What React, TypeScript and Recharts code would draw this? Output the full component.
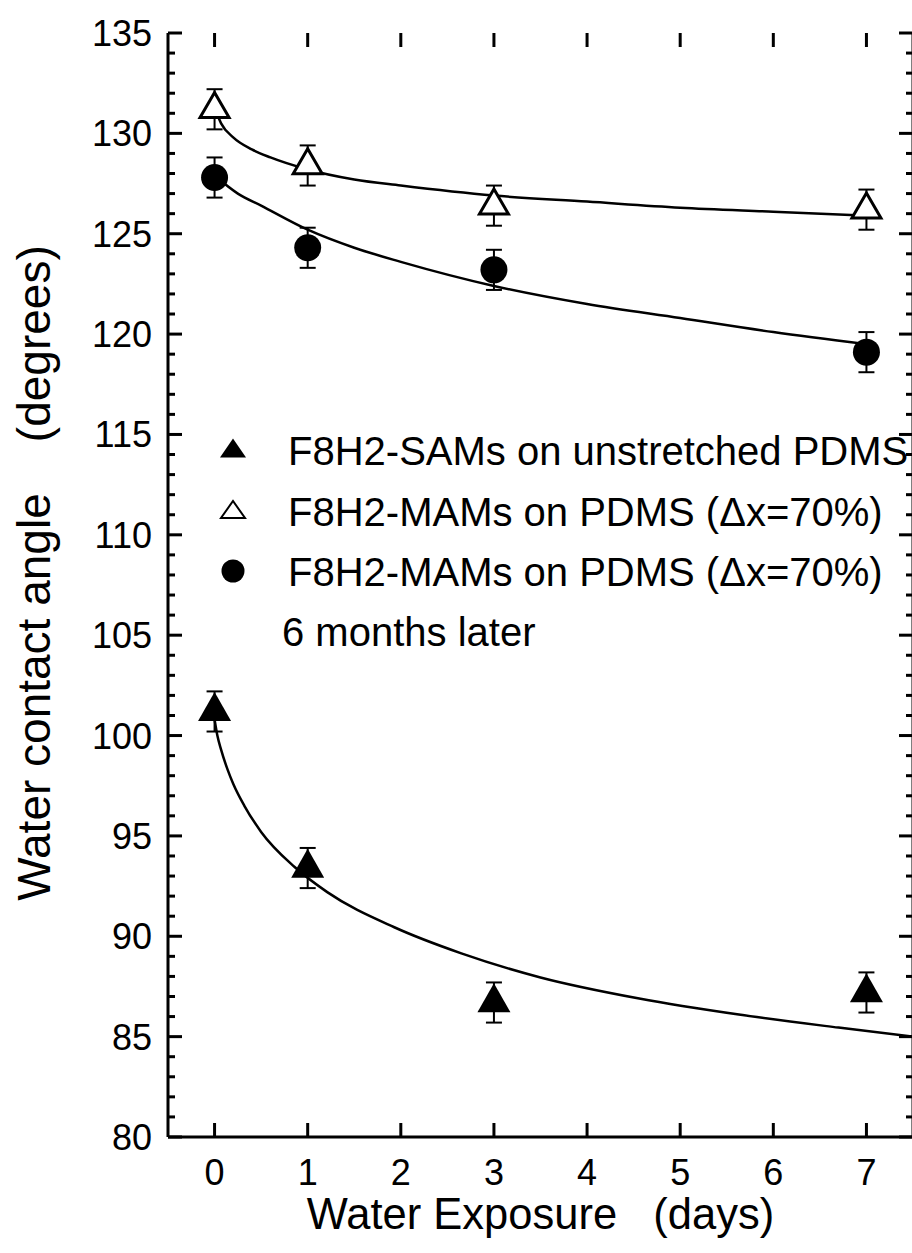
import React from 'react';
import { ComposedChart, Scatter, Line, XAxis, YAxis, ErrorBar, Legend, Label } from 'recharts';

const FONT = '"Liberation Sans", Arial, Helvetica, sans-serif';

// measured points (days of water exposure vs contact angle)
const days = [0, 1, 3, 7];
const samsAngle = [101.2, 93.4, 86.7, 87.2];
const samsError = [1.0, 1.0, 1.0, 1.0];
const mamsAngle = [131.2, 128.4, 126.4, 126.2];
const mamsError = [1.0, 1.0, 1.0, 1.0];
const laterAngle = [127.8, 124.3, 123.2, 119.1];
const laterError = [1.0, 1.0, 1.0, 1.0];

// fitted curves
const samsFitDays = [0, 0.03, 0.07, 0.14, 0.2, 0.32, 0.5, 0.86, 1.21, 1.93, 2.65, 3.5, 4.56, 5.63, 6.7, 7.5];
const samsFitAngle = [100.8, 100.0, 99.3, 98.3, 97.6, 96.5, 95.2, 93.45, 92.2, 90.45, 89.15, 87.95, 86.9, 86.1, 85.45, 85.0];
const mamsFitDays = [0, 0.07, 0.2, 0.4, 0.6, 1, 1.5, 2, 3, 4, 5, 6, 7];
const mamsFitAngle = [131.3, 130.5, 129.8, 129.2, 128.8, 128.2, 127.7, 127.4, 126.9, 126.6, 126.3, 126.1, 125.9];
const laterFitDays = [0, 0.25, 0.5, 1, 1.5, 2, 3, 4, 5, 6, 7];
const laterFitAngle = [127.9, 127.0, 126.4, 125.2, 124.3, 123.6, 122.4, 121.5, 120.8, 120.1, 119.5];

const xTicks = [0, 1, 2, 3, 4, 5, 6, 7];
const yTicks = Array.from({ length: 56 }, (_, i) => 80 + i);

const legendLabels = [
  'F8H2-SAMs on unstretched PDMS',
  'F8H2-MAMs on PDMS (\u0394x=70%)',
  'F8H2-MAMs on PDMS (\u0394x=70%)',
  '6 months later',
];

// chart layout
const CHART_W = 923;
const CHART_H = 1253;
const LEFT_W = 168;
const RIGHT_W = 10;
const TOP = 33;
const BOTTOM_H = 116;
const PLOT_W = CHART_W - LEFT_W - RIGHT_W;
const PLOT_H = CHART_H - TOP - BOTTOM_H;

const points = (ys: number[], errs: number[]) => days.map((d, i) => ({ x: d, y: ys[i], err: errs[i] }));
const curve = (xs: number[], ys: number[]) => xs.map((d, i) => ({ x: d, y: ys[i] }));

const samsData = points(samsAngle, samsError);
const mamsData = points(mamsAngle, mamsError);
const laterData = points(laterAngle, laterError);

const triangleShape = (filled: boolean, w: number, h: number, sw: number) => (props: any) => {
  const { cx, cy } = props;
  if (cx == null || cy == null) return <g />;
  const pts = `${cx - w / 2},${cy + h / 3} ${cx + w / 2},${cy + h / 3} ${cx},${cy - (2 * h) / 3}`;
  return <polygon points={pts} fill={filled ? '#000' : '#fff'} stroke="#000" strokeWidth={sw} />;
};

const circleShape = (props: any) => {
  const { cx, cy } = props;
  if (cx == null || cy == null) return <g />;
  return <circle cx={cx} cy={cy} r={13.5} fill="#000" />;
};

// bottom tick (inward) plus its mirror on the top frame
const BottomTick = ({ x, y, payload }: any) => (
  <g>
    <line x1={x} y1={y} x2={x} y2={y - 14} stroke="#000" strokeWidth={3} />
    <line x1={x} y1={y - PLOT_H} x2={x} y2={y - PLOT_H + 14} stroke="#000" strokeWidth={3} />
    <text x={x} y={y + 48} textAnchor="middle" fontSize={36} fontFamily={FONT} fill="#000">
      {payload.value}
    </text>
  </g>
);

// left tick (inward) plus its mirror on the right frame
const LeftTick = ({ x, y, payload }: any) => {
  const major = payload.value % 5 === 0;
  const len = major ? 14 : 7;
  return (
    <g>
      <line x1={x} y1={y} x2={x + len} y2={y} stroke="#000" strokeWidth={3} />
      <line x1={x + PLOT_W} y1={y} x2={x + PLOT_W - len} y2={y} stroke="#000" strokeWidth={3} />
      {major && (
        <text x={x - 16} y={y} dy="0.36em" textAnchor="end" fontSize={36} fontFamily={FONT} fill="#000">
          {payload.value}
        </text>
      )}
    </g>
  );
};

const XTitle = ({ viewBox }: any) => (
  <text
    x={viewBox.x + viewBox.width / 2}
    y={1229}
    textAnchor="middle"
    fontSize={43.5}
    fontFamily={FONT}
    fill="#000"
    style={{ whiteSpace: 'pre' }}
  >
    {'Water Exposure   (days)'}
  </text>
);

const YTitle = () => (
  <text
    x={50}
    y={573}
    transform="rotate(-90, 50, 573)"
    textAnchor="middle"
    fontSize={46}
    fontFamily={FONT}
    fill="#000"
    style={{ whiteSpace: 'pre' }}
  >
    {'Water contact angle    (degrees)'}
  </text>
);

const renderLegend = () => {
  const rowY = [36, 97, 157, 217];
  return (
    <svg width={712} height={240}>
      <polygon points="20,42.5 46,42.5 33,23.5" fill="#000" />
      <polygon points="21,103 45,103 33,86" fill="#fff" stroke="#000" strokeWidth={2} />
      <circle cx={33} cy={156} r={11.5} fill="#000" />
      {legendLabels.map((label, i) => (
        <text
          key={`legend-${i}`}
          x={i === 3 ? 82 : 88}
          y={rowY[i]}
          dy="0.36em"
          fontSize={40}
          fontFamily={FONT}
          fill="#000"
        >
          {label}
        </text>
      ))}
    </svg>
  );
};

const App: React.FC = () => {
  return (
    <div style={{ position: 'fixed', left: 0, top: 0, width: 912, height: 1253, overflow: 'hidden', background: '#fff' }}>
      <ComposedChart width={CHART_W} height={CHART_H} margin={{ top: TOP, right: 0, bottom: 0, left: 0 }}>
        <XAxis
          xAxisId="b"
          dataKey="x"
          type="number"
          domain={[-0.5, 7.5]}
          allowDataOverflow
          ticks={xTicks}
          interval={0}
          height={BOTTOM_H}
          tickSize={0}
          tickMargin={0}
          tickLine={false}
          axisLine={{ stroke: '#000', strokeWidth: 3 }}
          tick={<BottomTick />}
        >
          <Label content={<XTitle />} />
        </XAxis>
        <XAxis
          xAxisId="t"
          orientation="top"
          dataKey="x"
          type="number"
          domain={[-0.5, 7.5]}
          allowDataOverflow
          ticks={xTicks}
          height={0}
          tickLine={false}
          tick={false}
          axisLine={{ stroke: '#000', strokeWidth: 3 }}
        />
        <YAxis
          yAxisId="l"
          type="number"
          domain={[80, 135]}
          allowDataOverflow
          ticks={yTicks}
          interval={0}
          width={LEFT_W}
          tickSize={0}
          tickMargin={0}
          tickLine={false}
          axisLine={{ stroke: '#000', strokeWidth: 3 }}
          tick={<LeftTick />}
        >
          <Label content={<YTitle />} />
        </YAxis>
        <YAxis
          yAxisId="r"
          orientation="right"
          type="number"
          domain={[80, 135]}
          allowDataOverflow
          width={RIGHT_W}
          tickLine={false}
          tick={false}
          axisLine={{ stroke: '#000', strokeWidth: 3 }}
        />
        <Scatter
          xAxisId="b"
          yAxisId="l"
          name="F8H2-SAMs"
          data={samsData}
          dataKey="y"
          shape={triangleShape(true, 33, 29, 0)}
          isAnimationActive={false}
        >
          <ErrorBar dataKey="err" direction="y" width={8} stroke="#000" strokeWidth={2} />
        </Scatter>
        <Scatter
          xAxisId="b"
          yAxisId="l"
          name="F8H2-MAMs"
          data={mamsData}
          dataKey="y"
          shape={triangleShape(false, 29, 25, 3)}
          isAnimationActive={false}
        >
          <ErrorBar dataKey="err" direction="y" width={8} stroke="#000" strokeWidth={2} />
        </Scatter>
        <Scatter
          xAxisId="b"
          yAxisId="l"
          name="F8H2-MAMs later"
          data={laterData}
          dataKey="y"
          shape={circleShape}
          isAnimationActive={false}
        >
          <ErrorBar dataKey="err" direction="y" width={8} stroke="#000" strokeWidth={2} />
        </Scatter>
        <Line
          xAxisId="b"
          yAxisId="l"
          data={curve(samsFitDays, samsFitAngle)}
          dataKey="y"
          type="monotone"
          stroke="#000"
          strokeWidth={2.5}
          dot={false}
          activeDot={false}
          isAnimationActive={false}
        />
        {/* bound to the mirrored top/right axes (same domains) */}
        <Line
          xAxisId="t"
          yAxisId="r"
          data={curve(mamsFitDays, mamsFitAngle)}
          dataKey="y"
          type="monotone"
          stroke="#000"
          strokeWidth={2.5}
          dot={false}
          activeDot={false}
          isAnimationActive={false}
        />
        <Line
          xAxisId="b"
          yAxisId="l"
          data={curve(laterFitDays, laterFitAngle)}
          dataKey="y"
          type="monotone"
          stroke="#000"
          strokeWidth={2.5}
          dot={false}
          activeDot={false}
          isAnimationActive={false}
        />
        <Legend
          layout="horizontal"
          verticalAlign="middle"
          align="center"
          content={renderLegend}
          wrapperStyle={{ position: 'absolute', left: 200, top: 415, width: 712, height: 240 }}
        />
      </ComposedChart>
    </div>
  );
};

export default App;
